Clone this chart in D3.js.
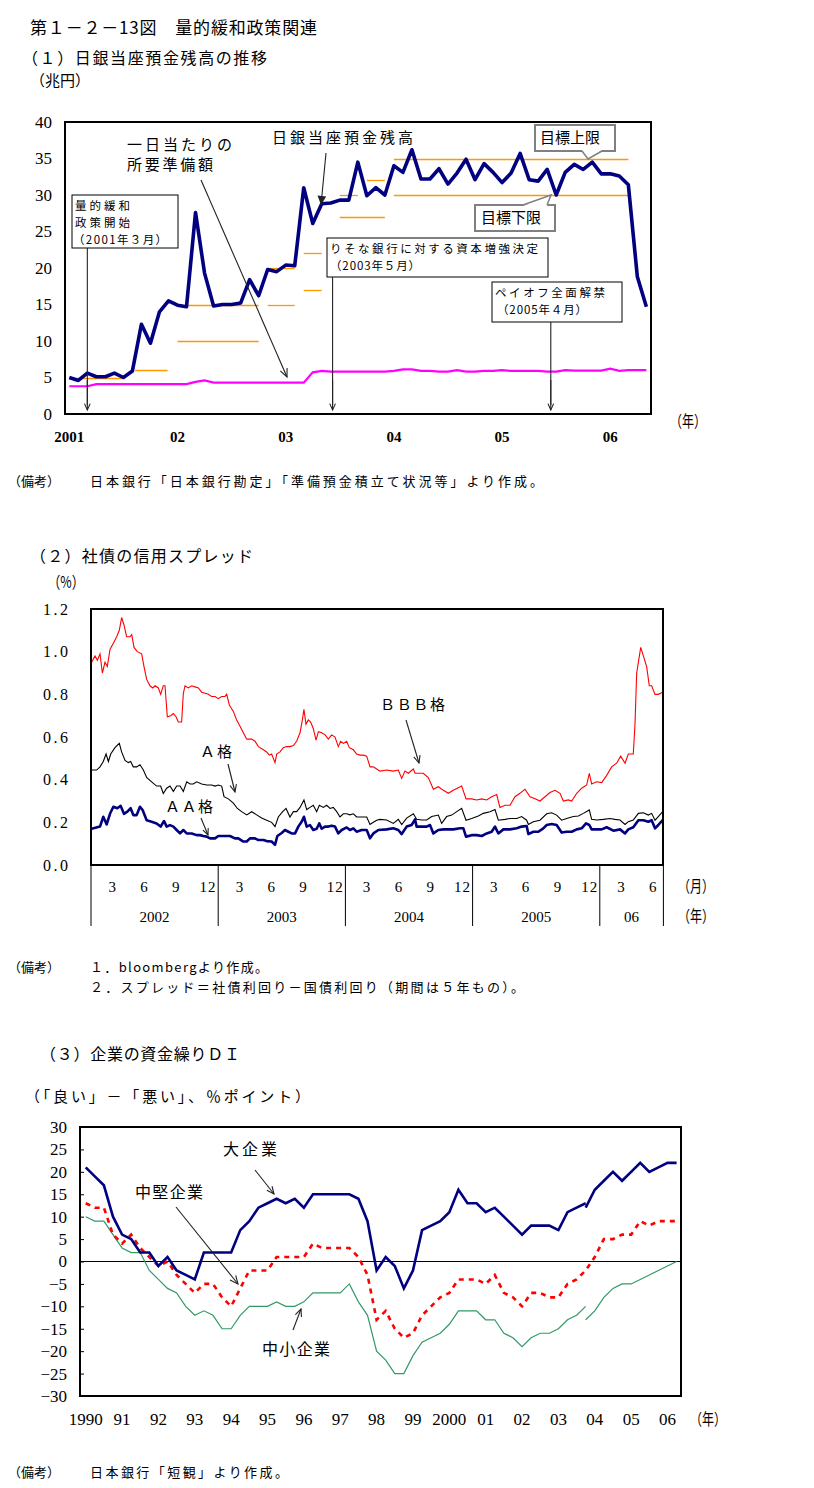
<!DOCTYPE html>
<html><head><meta charset="utf-8">
<script src="https://cdn.jsdelivr.net/npm/d3@7"></script>
<style>body{margin:0;background:#fff}</style>
</head><body>
<svg id="c" width="814" height="1488"></svg>
<script>
// ================= DATA =================
// Chart 1: BOJ current account balance (monthly, Jan 2001 - May 2006), trillion yen
const c1YearLabels = ["2001","02","03","04","05","06"];
const c1YTicks = [0,5,10,15,20,25,30,35,40];
const balance = [
  5.0,4.6,5.6,5.1,5.1,5.6,5.0,5.9,12.3,9.7,14.0,15.5,
  14.9,14.7,27.6,19.3,14.8,15.0,15.0,15.2,18.4,16.2,19.8,19.5,
  20.4,20.3,31.0,26.1,28.8,28.9,29.3,29.3,34.5,29.9,31.0,30.0,
  34.0,33.1,36.2,32.2,32.2,33.6,31.5,33.0,34.9,32.1,34.3,33.1,
  31.7,33.0,35.7,32.1,31.9,33.5,30.0,33.1,34.2,33.5,34.5,32.9,
  32.9,32.6,31.4,18.8,14.7];
const required = [
  3.8,3.8,3.8,4.1,4.1,4.1,4.1,4.1,4.1,4.1,4.1,4.1,
  4.1,4.1,4.4,4.6,4.3,4.3,4.3,4.3,4.3,4.3,4.3,4.3,
  4.3,4.3,4.3,5.7,5.9,5.8,5.8,5.8,5.8,5.8,5.8,5.8,
  5.9,6.1,6.1,5.9,5.9,5.8,5.8,6.0,5.8,5.8,5.9,5.9,
  6.0,5.9,5.9,5.9,5.9,5.8,5.8,6.0,5.95,5.95,5.95,5.95,
  6.2,5.9,6.0,6.0,6.0];
// target ranges: [fromMonth, toMonth, level]
const targets = [[0,6,5],[7.3,10.9,6],[12,21,10],[13,21,15],[22,25,15],[22,25,20],
  [26,28,17],[26,28,22],[30,35,27],[30,32,30],[33,35,32],[36,62,30],[36,62,35]];
// event arrows (month index since Jan 2001, as drawn)
const c1Events = [2, 29.2, 53.4];

// Chart 2: corporate bond spreads, [month since Jan 2002, %]
const c2Years = ["2002","2003","2004","2005","06"];
const c2Months = ["3","6","9","12"];
const c2YTicks = [0,0.2,0.4,0.6,0.8,1.0,1.2];
const bbb = [[0.06,0.95],[0.38,0.98],[0.60,0.96],[0.85,0.99],[1.07,0.90],[1.32,0.95],[1.54,0.93],[1.79,1.01],[2.11,1.04],[2.42,1.07],[2.67,1.10],[2.89,1.16],[3.11,1.125],[3.36,1.07],[3.68,1.07],[3.84,1.08],[4.06,1.02],[4.37,1.00],[4.78,0.99],[5.00,0.93],[5.25,0.87],[5.57,0.84],[5.82,0.83],[6.04,0.84],[6.35,0.83],[6.57,0.80],[6.82,0.84],[6.98,0.84],[7.20,0.695],[7.52,0.70],[7.77,0.71],[8.02,0.695],[8.24,0.67],[8.55,0.67],[8.71,0.805],[8.87,0.84],[9.18,0.83],[9.50,0.84],[9.81,0.835],[10.13,0.83],[10.44,0.81],[10.75,0.805],[11.07,0.80],[11.38,0.79],[11.70,0.79],[12.01,0.78],[12.33,0.79],[12.64,0.79],[12.80,0.80],[13.05,0.75],[13.43,0.72],[13.74,0.68],[14.06,0.65],[14.37,0.62],[14.69,0.59],[15.16,0.59],[15.47,0.58],[15.79,0.555],[16.26,0.54],[16.57,0.53],[16.82,0.515],[17.04,0.52],[17.36,0.48],[17.52,0.52],[17.83,0.53],[18.14,0.55],[18.46,0.555],[18.77,0.555],[19.09,0.56],[19.40,0.58],[19.72,0.62],[19.94,0.68],[20.09,0.73],[20.28,0.66],[20.50,0.68],[20.72,0.67],[20.97,0.64],[21.23,0.585],[21.45,0.625],[21.76,0.62],[22.08,0.61],[22.39,0.59],[22.70,0.61],[23.02,0.60],[23.33,0.555],[23.55,0.58],[23.81,0.57],[24.12,0.58],[24.37,0.55],[24.75,0.54],[25.06,0.52],[25.38,0.515],[25.69,0.515],[26.01,0.51],[26.32,0.46],[26.64,0.46],[26.95,0.45],
  [27.26,0.44],[27.89,0.445],[28.52,0.44],[28.99,0.445],[29.31,0.406],[29.62,0.44],[29.94,0.43],[30.41,0.45],[30.57,0.43],[30.88,0.43],[31.35,0.43],[31.82,0.41],[32.30,0.355],[32.77,0.367],[33.24,0.35],[33.71,0.336],[34.18,0.35],[34.97,0.37],[35.38,0.31],[35.91,0.31],[36.38,0.305],[36.86,0.31],[37.33,0.305],[37.80,0.32],[38.27,0.33],[38.58,0.27],[39.06,0.28],[39.53,0.28],[40.00,0.32],[40.47,0.336],[40.94,0.355],[41.42,0.32],[41.89,0.31],[42.36,0.30],[42.83,0.32],[43.30,0.34],[43.77,0.35],[44.25,0.336],[44.56,0.30],[45.03,0.305],[45.35,0.30],[45.82,0.336],[46.29,0.36],[46.76,0.375],[47.01,0.43],[47.23,0.38],[47.70,0.39],[48.18,0.386],[48.65,0.42],[49.12,0.46],[49.59,0.477],[49.97,0.51],[50.38,0.477],[50.69,0.52],[51.16,0.52],[51.32,0.66],[51.48,0.90],[51.86,1.02],[52.11,0.98],[52.42,0.93],[52.67,0.84],[52.89,0.84],[53.21,0.80],[53.52,0.80],[53.93,0.81]];
const gradeA = [[0.06,0.445],[0.53,0.445],[0.85,0.46],[1.16,0.485],[1.42,0.52],[1.64,0.485],[1.86,0.52],[2.26,0.55],[2.67,0.57],[2.89,0.53],[3.21,0.49],[3.52,0.48],[3.74,0.485],[3.99,0.46],[4.31,0.46],[4.62,0.47],[4.94,0.445],[5.25,0.41],[5.72,0.39],[6.19,0.37],[6.57,0.37],[6.82,0.335],[7.14,0.36],[7.45,0.37],[7.77,0.345],[8.08,0.37],[8.40,0.37],[8.71,0.345],[9.03,0.39],[9.34,0.38],[9.65,0.38],[9.97,0.39],[10.44,0.38],[10.91,0.375],[11.38,0.375],[11.70,0.37],[12.01,0.375],[12.33,0.37],[12.55,0.32],[12.96,0.31],[13.43,0.29],[13.81,0.265],[14.21,0.25],[14.69,0.235],[15.16,0.25],[15.63,0.235],[16.10,0.22],[16.57,0.21],[17.04,0.20],[17.36,0.18],[17.67,0.225],[18.08,0.25],[18.40,0.265],[18.77,0.225],[19.09,0.25],[19.40,0.25],[19.72,0.27],[20.09,0.305],[20.35,0.26],[20.66,0.27],[20.97,0.28],[21.29,0.25],[21.54,0.28],[21.92,0.27],[22.23,0.28],[22.55,0.265],[22.86,0.27],[23.18,0.25],[23.49,0.225],[23.81,0.24],[24.12,0.24],[24.43,0.235],[24.75,0.24],[25.06,0.225],[26.01,0.225],[26.32,0.19],[26.64,0.20],[26.95,0.21],
  [27.26,0.214],[27.89,0.211],[28.52,0.195],[28.99,0.214],[29.31,0.19],[29.78,0.22],[30.41,0.24],[30.72,0.214],[31.20,0.211],[31.67,0.211],[32.14,0.227],[32.77,0.234],[33.08,0.195],[33.55,0.227],[34.03,0.234],[34.50,0.25],[34.97,0.266],[35.38,0.21],[35.91,0.218],[36.54,0.23],[37.01,0.242],[37.64,0.25],[38.11,0.26],[38.43,0.21],[39.06,0.214],[39.53,0.218],[40.16,0.218],[40.63,0.227],[41.10,0.21],[41.26,0.19],[41.73,0.203],[42.36,0.21],[42.99,0.24],[43.46,0.245],[43.93,0.234],[44.40,0.21],[44.87,0.218],[45.50,0.227],[45.98,0.23],[46.45,0.242],[47.01,0.258],[47.23,0.214],[47.70,0.211],[48.33,0.214],[48.96,0.218],[49.43,0.214],[49.91,0.211],[50.38,0.19],[50.69,0.203],[51.16,0.211],[51.64,0.242],[52.11,0.245],[52.58,0.234],[52.89,0.242],[53.21,0.21],[53.52,0.227],[53.93,0.25]];
const gradeAA = [[0.06,0.17],[0.85,0.18],[1.16,0.226],[1.48,0.19],[1.79,0.24],[2.11,0.273],[2.48,0.266],[2.80,0.277],[3.11,0.24],[3.43,0.25],[3.74,0.266],[3.99,0.234],[4.31,0.234],[4.62,0.273],[4.87,0.258],[5.25,0.21],[5.72,0.203],[6.19,0.195],[6.57,0.18],[6.89,0.206],[7.14,0.18],[7.45,0.187],[7.77,0.18],[8.08,0.164],[8.40,0.148],[8.71,0.164],[9.03,0.148],[9.50,0.148],[9.97,0.14],[10.28,0.14],[10.60,0.136],[10.91,0.133],[11.23,0.125],[11.70,0.125],[12.01,0.136],[13.11,0.136],[13.58,0.125],[13.90,0.125],[14.37,0.11],[14.69,0.11],[15.00,0.125],[15.47,0.125],[15.79,0.117],[16.26,0.117],[16.57,0.112],[17.04,0.11],[17.36,0.094],[17.58,0.136],[17.99,0.15],[18.30,0.164],[18.62,0.156],[18.93,0.148],[19.25,0.148],[19.56,0.18],[19.87,0.203],[20.09,0.226],[20.35,0.18],[20.66,0.187],[20.97,0.164],[21.29,0.17],[21.54,0.195],[21.76,0.17],[22.08,0.18],[22.39,0.18],[22.70,0.184],[23.02,0.18],[23.33,0.148],[23.65,0.164],[24.12,0.176],[24.43,0.164],[24.75,0.172],[25.06,0.156],[25.53,0.164],[26.01,0.164],[26.32,0.125],[26.64,0.148],[27.11,0.164],
  [27.89,0.167],[28.52,0.172],[28.99,0.164],[29.31,0.145],[29.78,0.18],[30.25,0.1875],[30.57,0.214],[30.72,0.18],[31.20,0.18],[31.67,0.18],[31.98,0.1875],[32.30,0.148],[32.77,0.164],[33.24,0.167],[33.71,0.167],[34.18,0.167],[34.81,0.172],[35.13,0.172],[35.38,0.133],[35.91,0.14],[36.38,0.14],[36.86,0.136],[37.33,0.148],[37.80,0.156],[38.11,0.18],[38.43,0.148],[38.90,0.167],[39.53,0.167],[40.16,0.172],[40.63,0.18],[41.10,0.183],[41.26,0.145],[41.73,0.156],[42.20,0.156],[42.67,0.172],[42.99,0.1875],[43.46,0.192],[43.93,0.1875],[44.40,0.152],[44.87,0.156],[45.35,0.156],[45.82,0.167],[46.29,0.172],[46.70,0.195],[47.01,0.1875],[47.23,0.167],[47.70,0.167],[48.18,0.167],[48.65,0.177],[49.28,0.161],[49.91,0.167],[50.38,0.148],[50.69,0.167],[51.16,0.177],[51.64,0.21],[52.11,0.21],[52.58,0.203],[52.89,0.21],[53.21,0.172],[53.52,0.1875],[53.93,0.21]];

// Chart 3: Tankan financial position DI (quarterly from 1990 Q1)
const c3YearLabels = ["1990","91","92","93","94","95","96","97","98","99","2000","01","02","03","04","05","06"];
const c3YTicks = [-30,-25,-20,-15,-10,-5,0,5,10,15,20,25,30];
const largeOld = [21,19,17,10,6,5,2,2,-1,1,-2,-3,-4,2,2,2,2,7,9,12,13,14,13,14,12,15,15,15,15,15,14,9,-2,1,-1,-6,-2,7,8,9,11,16,13,13,11,12,10,8,6,8,8,8,7,11,12,13];
const largeNew = [12,16,18,20,18,20,22,20,21,22,22];           // from 2003 Q4
const medium = [13,12,12,6,4,6,3,1,-1,0,-3,-5,-7,-5,-5,-8,-10,-6,-2,-2,-2,1,1,1,1,4,3,3,3,3,1,-3,-13,-11,-15,-17,-16,-12,-10,-8,-7,-4,-4,-4,-5,-3,-7,-8,-10,-7,-7,-8,-8,-5,-4,-2,1,5,5,6,6,9,8,9,9,9];
const smallOld = [10,9,9,6,3,2,2,-2,-4,-6,-7,-10,-12,-11,-12,-15,-15,-12,-10,-10,-10,-9,-10,-10,-9,-7,-7,-7,-7,-5,-9,-12,-20,-22,-25,-25,-21,-18,-17,-16,-14,-11,-11,-11,-13,-13,-16,-17,-19,-17,-16,-16,-15,-13,-12,-10];
const smallNew = [-13,-11,-8,-6,-5,-5,-4,-3,-2,-1,0];
const newStartQ = 55;

// ================= DRAWING =================
const JP = "'Noto Sans CJK JP','Noto Sans CJK SC',sans-serif";
const SERIF = "'Liberation Serif','DejaVu Serif',serif";
const svg = d3.select("#c");
svg.append("rect").attr("width",814).attr("height",1488).attr("fill","#fff");

function T(g, x, y, s, o = {}) {
  const t = g.append("text").attr("x", x).attr("y", y).text(s)
    .attr("font-family", o.f || JP).attr("font-size", o.size || 14)
    .attr("text-anchor", o.anchor || "start").attr("fill", o.fill || "#000");
  if (o.len) t.attr("textLength", o.len).attr("lengthAdjust", o.adj || "spacing");
  return t;
}
function arrow(g, x1, y1, x2, y2, o = {}) {
  const col = o.color || "#222", L = o.len || 8, A = o.ang || 0.42;
  g.append("line").attr("x1", x1).attr("y1", y1).attr("x2", x2).attr("y2", y2)
    .attr("stroke", col).attr("stroke-width", o.w || 1.1);
  const a = Math.atan2(y2 - y1, x2 - x1);
  const p1 = [x2 - L * Math.cos(a - A), y2 - L * Math.sin(a - A)];
  const p2 = [x2 - L * Math.cos(a + A), y2 - L * Math.sin(a + A)];
  if (o.filled) {
    g.append("polygon").attr("points", [p1, [x2, y2], p2].map(p => p.join(",")).join(" ")).attr("fill", col);
  } else {
    g.append("polyline").attr("points", [p1, [x2, y2], p2].map(p => p.join(",")).join(" "))
      .attr("fill", "none").attr("stroke", col).attr("stroke-width", o.w || 1.1);
  }
}
function box(g, x, y, w, h, col, sw) {
  g.append("rect").attr("x", x).attr("y", y).attr("width", w).attr("height", h)
    .attr("fill", "#fff").attr("stroke", col).attr("stroke-width", sw);
}
const SQ = "spacingAndGlyphs";

// ---------- Chart 1 ----------
const g1 = svg.append("g");
T(g1, 30, 34, "第１－２－13図　量的緩和政策関連", {size: 17, len: 287});
T(g1, 22, 64, "（１）日銀当座預金残高の推移", {size: 16, len: 245});
T(g1, 30, 86, "（兆円）", {size: 15, len: 60, adj: SQ});

const x1 = d3.scaleLinear().domain([0, 60]).range([69.3, 610.3]);
const y1 = d3.scaleLinear().domain([0, 40]).range([414, 122]);

g1.selectAll("line.tg").data(targets).join("line").attr("class", "tg")
  .attr("x1", d => x1(d[0])).attr("x2", d => x1(d[1]))
  .attr("y1", d => Math.round(y1(d[2])) + 0.5).attr("y2", d => Math.round(y1(d[2])) + 0.5)
  .attr("stroke", "#FF9900").attr("stroke-width", 1.3);

const line1 = d3.line().x((d, i) => x1(i)).y(d => y1(d));
g1.append("path").attr("d", line1(required)).attr("fill", "none")
  .attr("stroke", "#FF00FF").attr("stroke-width", 2.2);
g1.append("path").attr("d", line1(balance)).attr("fill", "none")
  .attr("stroke", "#000080").attr("stroke-width", 3.6).attr("stroke-linejoin", "round");

g1.append("rect").attr("x", 65).attr("y", 122).attr("width", 586).attr("height", 292)
  .attr("fill", "none").attr("stroke", "#000").attr("stroke-width", 2);

const ax1 = g1.append("g").attr("transform", "translate(65,0)")
  .call(d3.axisLeft(y1).tickValues(c1YTicks).tickSize(0).tickPadding(13));
ax1.select(".domain").remove();
ax1.selectAll("text").attr("font-family", SERIF).attr("font-size", 17).attr("fill", "#000");

g1.selectAll("text.xl").data(c1YearLabels).join("text").attr("class", "xl")
  .attr("x", (d, i) => x1(i * 12)).attr("y", 442).attr("text-anchor", "middle")
  .attr("font-family", SERIF).attr("font-size", 15).attr("font-weight", "bold").text(d => d);
T(g1, 670, 427, "（年）", {size: 16, len: 36, adj: SQ});

// annotations chart 1
T(g1, 127, 150, "一日当たりの", {size: 15, len: 105});
T(g1, 127, 170, "所要準備額", {size: 15, len: 86});
arrow(g1, 201, 180, 287, 377, {len: 9});
T(g1, 272, 143, "日銀当座預金残高", {size: 15, len: 141});
arrow(g1, 326, 153, 321, 205, {filled: true, len: 10, ang: 0.45});

c1Events.forEach(m => arrow(g1, x1(m), 380, x1(m), 410, {len: 7}));
// event boxes
box(g1, 72, 195, 106, 53, "#000", 1);
T(g1, 75, 210, "量的緩和", {size: 11.5, len: 55});
T(g1, 75, 227, "政策開始", {size: 11.5, len: 55});
T(g1, 73, 244, "（2001年３月）", {size: 11.5, len: 94});
g1.append("line").attr("x1", x1(c1Events[0])).attr("x2", x1(c1Events[0])).attr("y1", 248).attr("y2", 405).attr("stroke", "#222").attr("stroke-width", 1.1);

box(g1, 327, 238, 221, 39, "#000", 1);
T(g1, 330, 253, "りそな銀行に対する資本増強決定", {size: 11.5, len: 208});
T(g1, 330, 270, "（2003年５月）", {size: 11.5, len: 90});
g1.append("line").attr("x1", x1(c1Events[1])).attr("x2", x1(c1Events[1])).attr("y1", 277).attr("y2", 405).attr("stroke", "#222").attr("stroke-width", 1.1);

box(g1, 492, 282, 130, 40, "#000", 1);
T(g1, 495, 297, "ペイオフ全面解禁", {size: 11.5, len: 110});
T(g1, 497, 314, "（2005年４月）", {size: 11.5, len: 90});
g1.append("line").attr("x1", x1(c1Events[2])).attr("x2", x1(c1Events[2])).attr("y1", 322).attr("y2", 405).attr("stroke", "#222").attr("stroke-width", 1.1);

// target callouts
box(g1, 535, 125, 80, 26, "#808080", 2);
g1.append("polygon").attr("points", "582,150 588,159 602,150").attr("fill", "#fff").attr("stroke", "none");
g1.append("polyline").attr("points", "582,151 588,159 602,151").attr("fill", "none").attr("stroke", "#808080").attr("stroke-width", 1.5);
T(g1, 540, 143, "目標上限", {size: 15, len: 60});

box(g1, 475, 205, 80, 26, "#808080", 2);
g1.append("polygon").attr("points", "523,206 551,195 547,206").attr("fill", "#fff").attr("stroke", "none");
g1.append("polyline").attr("points", "523,205 551,195 547,205").attr("fill", "none").attr("stroke", "#808080").attr("stroke-width", 1.5);
T(g1, 481, 223, "目標下限", {size: 15, len: 60});

T(g1, 8, 486, "（備考）", {size: 13, len: 52, adj: SQ});
T(g1, 90, 486, "日本銀行「日本銀行勘定」「準備預金積立て状況等」より作成。", {size: 13, len: 453});

// ---------- Chart 2 ----------
const g2 = svg.append("g");
T(g2, 30, 562, "（２）社債の信用スプレッド", {size: 16, len: 223});
T(g2, 48, 588, "（%）", {size: 16, len: 36, adj: SQ});

const x2 = d3.scaleLinear().domain([0, 54]).range([91, 663.4]);
const y2 = d3.scaleLinear().domain([0, 1.2]).range([865, 609]);
const line2 = d3.line().x(d => x2(d[0])).y(d => y2(d[1]));
g2.append("path").attr("d", line2(bbb)).attr("fill", "none").attr("stroke", "#FF0000").attr("stroke-width", 1.1);
g2.append("path").attr("d", line2(gradeA)).attr("fill", "none").attr("stroke", "#000").attr("stroke-width", 1.1);
g2.append("path").attr("d", line2(gradeAA)).attr("fill", "none").attr("stroke", "#000080").attr("stroke-width", 2.6).attr("stroke-linejoin", "round");

g2.append("rect").attr("x", 91).attr("y", 609).attr("width", 572).attr("height", 256)
  .attr("fill", "none").attr("stroke", "#000").attr("stroke-width", 2);
const ax2 = g2.append("g").attr("transform", "translate(91,0)")
  .call(d3.axisLeft(y2).tickValues(c2YTicks).tickSize(0).tickPadding(23).tickFormat(d3.format(".1f")));
ax2.select(".domain").remove();
ax2.selectAll("text").attr("font-family", SERIF).attr("font-size", 16).attr("fill", "#000")
  .attr("textLength", 25).attr("lengthAdjust", "spacing");

[0, 12, 24, 36, 48, 54].forEach(m => {
  g2.append("line").attr("x1", x2(m)).attr("x2", x2(m)).attr("y1", 865).attr("y2", 926)
    .attr("stroke", "#000").attr("stroke-width", 1);
});
c2Years.forEach((yr, yi) => {
  const months = yi === 4 ? c2Months.slice(0, 2) : c2Months;
  months.forEach(mo => {
    T(g2, x2(yi * 12 + (+mo) - 1), 892, mo, {f: SERIF, size: 15, anchor: "middle", len: mo.length > 1 ? 16 : null});
  });
  const a = yi * 12, b = Math.min(a + 12, 54);
  T(g2, x2((a + b) / 2), 922, yr, {f: SERIF, size: 15, anchor: "middle"});
});
T(g2, 678, 892, "（月）", {size: 16, len: 36, adj: SQ});
T(g2, 678, 922, "（年）", {size: 16, len: 36, adj: SQ});

T(g2, 380, 710, "ＢＢＢ格", {size: 15, len: 65});
arrow(g2, 406, 720, 419, 763, {len: 8});
T(g2, 200, 757, "Ａ格", {size: 15, len: 32});
arrow(g2, 228, 764, 235, 792, {len: 8});
T(g2, 165, 812, "ＡＡ格", {size: 15, len: 48});
arrow(g2, 201, 818, 208, 835, {len: 7});

T(g2, 8, 972, "（備考）", {size: 13, len: 52, adj: SQ});
T(g2, 90, 972, "１．bloombergより作成。", {size: 13, len: 178});
T(g2, 90, 992, "２．スプレッド＝社債利回り－国債利回り（期間は５年もの）。", {size: 13, len: 434});

// ---------- Chart 3 ----------
const g3 = svg.append("g");
T(g3, 40, 1060, "（３）企業の資金繰りＤＩ", {size: 16, len: 200});
T(g3, 25, 1102, "（「良い」－「悪い」、％ポイント）", {size: 15, len: 285});

const x3 = d3.scaleLinear().domain([0, 64]).range([85.7, 667.5]);
const y3 = d3.scaleLinear().domain([-30, 30]).range([1396, 1127]);
g3.append("line").attr("x1", 80).attr("x2", 681).attr("y1", y3(0)).attr("y2", y3(0)).attr("stroke", "#000").attr("stroke-width", 1.2);

const line3 = off => d3.line().x((d, i) => x3(i + off)).y(d => y3(d));
g3.append("path").attr("d", line3(0)(smallOld)).attr("fill", "none").attr("stroke", "#339966").attr("stroke-width", 1.2);
g3.append("path").attr("d", line3(newStartQ)(smallNew)).attr("fill", "none").attr("stroke", "#339966").attr("stroke-width", 1.2);
g3.append("path").attr("d", line3(0)(medium)).attr("fill", "none").attr("stroke", "#FF0000")
  .attr("stroke-width", 2.6).attr("stroke-dasharray", "5,5");
g3.append("path").attr("d", line3(0)(largeOld)).attr("fill", "none").attr("stroke", "#000080").attr("stroke-width", 2.6);
g3.append("path").attr("d", line3(newStartQ)(largeNew)).attr("fill", "none").attr("stroke", "#000080").attr("stroke-width", 2.6);

g3.append("rect").attr("x", 80).attr("y", 1127).attr("width", 601).attr("height", 269)
  .attr("fill", "none").attr("stroke", "#000").attr("stroke-width", 2);
const ax3 = g3.append("g").attr("transform", "translate(80,0)")
  .call(d3.axisLeft(y3).tickValues(c3YTicks).tickSizeInner(-4).tickSizeOuter(0).tickPadding(13));
ax3.select(".domain").remove();
ax3.selectAll("line").attr("stroke", "#000");
ax3.selectAll("text").attr("font-family", SERIF).attr("font-size", 17).attr("fill", "#000");

g3.selectAll("text.xl").data(c3YearLabels).join("text").attr("class", "xl")
  .attr("x", (d, i) => x3(i * 4)).attr("y", 1425).attr("text-anchor", "middle")
  .attr("font-family", SERIF).attr("font-size", 17).text(d => d);
T(g3, 690, 1425, "（年）", {size: 16, len: 36, adj: SQ});

T(g3, 223, 1155, "大企業", {size: 16, len: 54});
arrow(g3, 255, 1170, 274, 1194, {len: 8});
T(g3, 135, 1198, "中堅企業", {size: 16, len: 68});
arrow(g3, 176, 1207, 238, 1284, {len: 9});
T(g3, 262, 1355, "中小企業", {size: 16, len: 68});
arrow(g3, 293, 1330, 301, 1309, {len: 8});

T(g3, 8, 1477, "（備考）", {size: 13, len: 52, adj: SQ});
T(g3, 90, 1477, "日本銀行「短観」より作成。", {size: 13, len: 198});
</script>
</body></html>
